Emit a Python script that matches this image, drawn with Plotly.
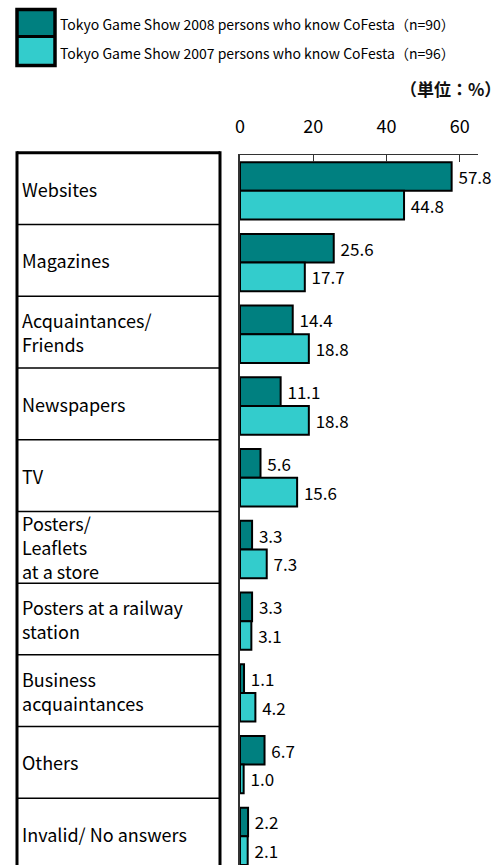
import plotly.graph_objects as go

# Survey data: how visitors learned about CoFesta (unit: %)
categories = [
    "Websites",
    "Magazines",
    "Acquaintances/<br>Friends",
    "Newspapers",
    "TV",
    "Posters/<br>Leaflets<br>at a store",
    "Posters at a railway<br>station",
    "Business<br>acquaintances",
    "Others",
    "Invalid/ No answers",
]
values_2008 = [57.8, 25.6, 14.4, 11.1, 5.6, 3.3, 3.3, 1.1, 6.7, 2.2]
values_2007 = [44.8, 17.7, 18.8, 18.8, 15.6, 7.3, 3.1, 4.2, 1.0, 2.1]
name_2008 = "Tokyo Game Show 2008 persons who know CoFesta（n=90）"
name_2007 = "Tokyo Game Show 2007 persons who know CoFesta（n=96）"
x_ticks = [0, 20, 40, 60]

DARK = "#008080"
LIGHT = "#33CCCC"
FONT = "Noto Sans CJK JP"

W, H = 504, 865
PL, PR, PT, PB = 240, 478, 155, 865
Y_RANGE = [9.4, -0.5]
ROW_PX = (PB - PT) / (Y_RANGE[0] - Y_RANGE[1])   # pixels per category row
LINE_PX = 24                                      # line spacing of row labels


def px(x):
    return (x - PL) / (PR - PL)


def py(y):
    return (PB - y) / (PB - PT)


def row_px(v):
    """Pixel row of a category-axis value."""
    return PT + (v - Y_RANGE[1]) * ROW_PX


idx = list(range(len(categories)))

fig = go.Figure()
for name, vals, col in [(name_2008, values_2008, DARK), (name_2007, values_2007, LIGHT)]:
    fig.add_trace(go.Bar(
        y=idx, x=vals, orientation="h", name=name,
        marker=dict(color=col, line=dict(color="black", width=2)),
        text=vals, texttemplate=" %{x:.1f}", textposition="outside",
        textfont=dict(family=FONT, size=17, color="black"),
        constraintext="none", cliponaxis=False, showlegend=False,
    ))

shapes = []
annotations = []

# Category table on the left
edges = [row_px(i - 0.53) for i in range(len(categories) + 1)]
shapes.append(dict(type="line", xref="paper", yref="paper", x0=px(17), x1=px(220),
                   y0=py(edges[0]), y1=py(edges[0]), line=dict(color="black", width=3)))
for e in edges[1:]:
    shapes.append(dict(type="line", xref="paper", yref="paper", x0=px(17), x1=px(220),
                       y0=py(e), y1=py(e), line=dict(color="black", width=1.5)))
for xv in (17, 220):
    shapes.append(dict(type="line", xref="paper", yref="paper", x0=px(xv), x1=px(xv),
                       y0=py(edges[0] - 1.5), y1=py(edges[-1]), line=dict(color="black", width=3)))
for i, c in enumerate(categories):
    lines = c.split("<br>")
    centre = row_px(i - 0.03)
    for k, ln in enumerate(lines):
        yc = centre + (k - (len(lines) - 1) / 2) * LINE_PX
        annotations.append(dict(text=ln, xref="paper", yref="paper", x=px(20), y=py(yc),
                                xanchor="left", yanchor="middle", showarrow=False,
                                font=dict(family=FONT, size=18, color="black")))

# Legend swatches
shapes.append(dict(type="rect", xref="paper", yref="paper", x0=px(17), x1=px(55),
                   y0=py(10), y1=py(36.5), fillcolor=DARK, line=dict(width=0)))
shapes.append(dict(type="rect", xref="paper", yref="paper", x0=px(17), x1=px(55),
                   y0=py(36.5), y1=py(65), fillcolor=LIGHT, line=dict(width=0)))
shapes.append(dict(type="line", xref="paper", yref="paper", x0=px(17), x1=px(55),
                   y0=py(36.5), y1=py(36.5), line=dict(color="black", width=3)))
shapes.append(dict(type="rect", xref="paper", yref="paper", x0=px(17), x1=px(55),
                   y0=py(9.5), y1=py(65.5), fillcolor="rgba(0,0,0,0)",
                   line=dict(color="black", width=3.5)))
for name, yc in [(name_2008, 24), (name_2007, 52.5)]:
    annotations.append(dict(text=name, xref="paper", yref="paper", x=px(58), y=py(yc),
                            xanchor="left", yanchor="middle", showarrow=False,
                            font=dict(family=FONT, size=14, color="black")))

# Unit label
annotations.append(dict(text="<b>（単位：%）</b>", xref="paper", yref="paper", x=px(503), y=py(89),
                        xanchor="right", yanchor="middle", showarrow=False,
                        font=dict(family=FONT, size=17, color="#111")))

fig.update_layout(
    width=W, height=H,
    margin=dict(l=PL, r=W - PR, t=PT, b=H - PB, pad=0),
    paper_bgcolor="white", plot_bgcolor="white",
    barmode="group", bargap=0.2, bargroupgap=0,
    shapes=shapes, annotations=annotations,
    xaxis=dict(side="top", range=[0, 65], tickvals=x_ticks, ticks="inside", ticklen=7,
               tickcolor="#333", showline=True, linecolor="#333", linewidth=1,
               showgrid=False, zeroline=False, ticklabelstandoff=14,
               tickfont=dict(family=FONT, size=18, color="black")),
    yaxis=dict(range=Y_RANGE, showticklabels=False, ticks="", showgrid=False,
               zeroline=False, showline=True, linecolor="#333", linewidth=2),
    font=dict(family=FONT),
)

fig.write_html("out.html")
